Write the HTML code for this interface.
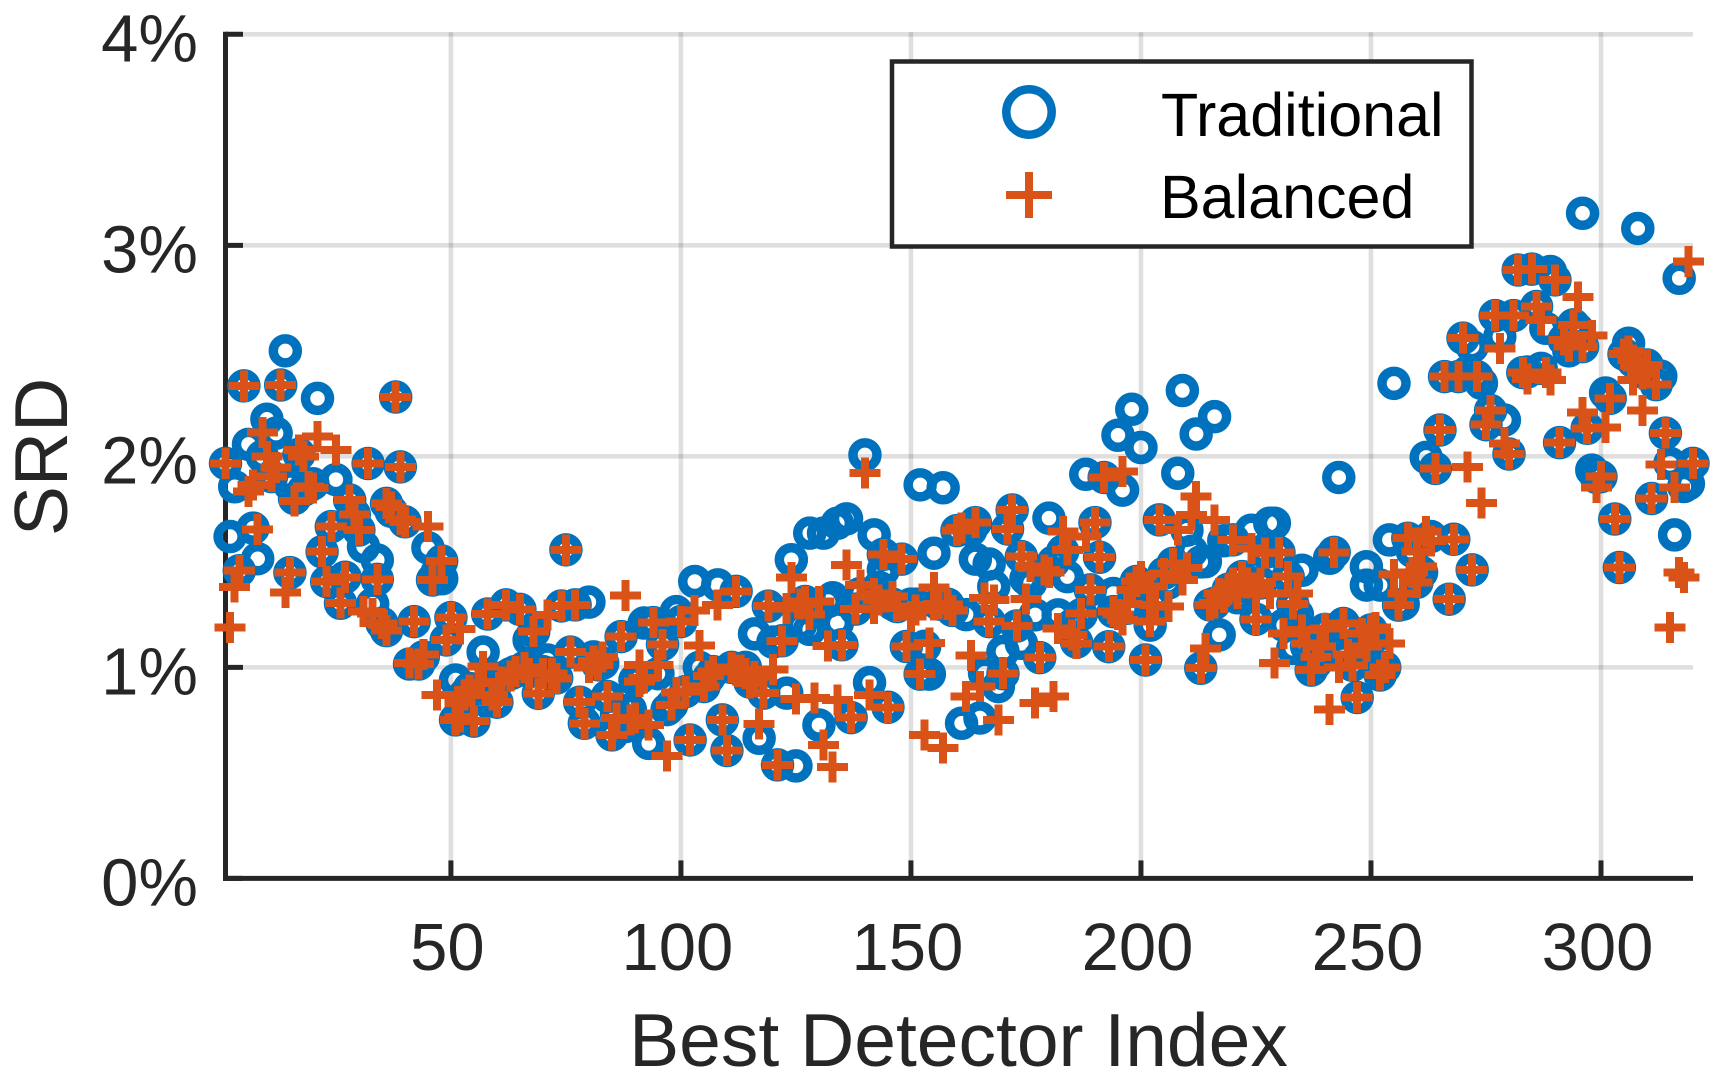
<!DOCTYPE html>
<html lang="en">
<head>
<meta charset="utf-8">
<title>SRD vs Best Detector Index</title>
<style>
html,body{margin:0;padding:0;background:#fff;}
svg{display:block;font-family:"Liberation Sans",Arial,sans-serif;}
</style>
</head>
<body>
<svg id="chart" xmlns="http://www.w3.org/2000/svg" width="1717" height="1077" viewBox="0 0 1717 1077"></svg>
<script>
const xTickValues = [50, 100, 150, 200, 250, 300];
const xTickLabels = ['50', '100', '150', '200', '250', '300'];
const yTickValues = [0, 1, 2, 3, 4];
const yTickLabels = ['0%', '1%', '2%', '3%', '4%'];
const xDomain = [1, 320];
const yDomain = [0, 4];
const seriesNames = ['Traditional', 'Balanced'];

const traditionalIndex = [1,2,3,4,5,6,7,8,10,11,12,13,14,15,15,17,19,21,22,23,24,25,26,27,28,29,30,31,32,34,34,35,36,36,38,39,40,41,42,43,45,46,48,48,49,50,51,51,52,55,57,58,60,62,64,65,66,67,68,69,71,72,74,75,76,77,78,79,80,82,84,85,87,89,90,92,93,94,95,96,98,99,100,101,102,103,105,107,108,109,110,112,113,116,117,118,119,121,122,123,124,125,127,128,128,130,131,132,134,134,135,136,137,138,140,141,142,142,144,144,145,147,148,149,152,152,154,155,157,158,160,161,162,163,164,164,165,166,167,167,168,169,170,170,171,172,173,174,174,177,178,179,180,182,184,188,189,190,191,193,194,194,195,196,198,199,200,201,204,205,207,208,209,210,212,213,213,214,215,216,216,217,220,222,224,225,227,228,229,230,232,233,233,235,237,241,242,243,244,244,246,247,248,249,249,250,252,252,254,255,256,258,260,262,264,265,266,267,268,269,270,271,272,272,273,274,276,277,278,279,280,281,282,283,285,286,287,288,289,290,291,292,294,296,296,297,298,300,301,302,303,304,305,306,308,310,311,312,313,314,315,316,317,318,320,9,16,18,20,33,37,44,47,53,54,56,59,61,63,70,73,81,83,86,88,91,97,104,106,111,114,115,120,126,129,133,139,143,146,150,151,153,156,159,175,176,181,183,185,186,187,192,197,202,203,206,211,218,219,221,223,226,231,234,236,238,239,240,245,251,253,257,259,261,263,275,284,293,295,299,307,309,319];
const traditionalSRD = [1.967,1.62,1.856,1.458,2.334,2.057,1.66,1.515,2.176,1.904,2.11,2.338,2.5,1.449,1.864,2.01,1.857,2.275,1.548,1.406,1.667,1.89,1.304,1.427,1.793,1.725,1.651,1.572,1.966,1.417,1.509,1.209,1.777,1.174,2.281,1.95,1.69,1.016,1.217,1.016,1.567,1.414,1.504,1.42,1.13,1.236,0.94,0.751,0.765,0.745,1.072,1.253,0.835,1.296,0.98,1.275,1.0,1.13,1.17,0.877,1.035,0.972,1.291,1.557,1.072,1.296,0.835,0.735,1.309,1.012,0.862,0.68,1.146,0.8,0.94,1.21,0.64,1.212,0.97,1.109,0.822,1.264,1.217,0.885,0.656,1.407,0.909,0.98,1.391,0.751,0.606,1.36,0.988,1.159,0.664,0.878,1.29,0.538,1.126,0.878,1.51,0.533,1.312,1.636,1.18,0.727,1.636,1.312,1.683,1.21,1.107,1.704,0.762,1.276,2.007,0.928,1.628,1.35,1.536,1.462,0.811,1.288,1.513,1.099,1.865,0.968,0.968,1.541,1.851,1.299,1.648,0.735,1.25,1.65,1.686,1.513,0.76,0.972,1.49,1.217,1.383,0.909,1.075,0.97,1.656,1.746,1.196,1.525,1.114,1.249,1.046,1.462,1.707,1.249,1.43,1.915,1.367,1.686,1.522,1.098,1.264,1.35,2.1,1.84,2.223,1.407,2.042,1.035,1.699,1.446,1.493,1.92,2.312,1.65,2.106,0.996,1.5,1.501,1.296,2.188,1.304,1.154,1.604,1.43,1.65,1.228,1.545,1.683,1.683,1.545,1.43,1.3,1.09,1.46,0.987,1.517,1.545,1.9,1.208,1.05,1.01,0.857,1.08,1.477,1.39,1.177,1.39,0.964,1.604,2.346,1.295,1.612,1.403,1.995,1.943,2.125,2.378,1.323,1.607,2.378,2.56,2.4,2.52,1.462,2.378,2.346,2.217,2.667,2.567,2.172,2.011,2.667,2.883,2.397,2.887,2.71,2.417,2.607,2.876,2.836,2.065,2.552,2.623,2.52,3.152,2.133,1.935,1.904,2.3,2.275,1.703,1.473,2.484,2.536,3.08,2.433,1.8,2.34,2.38,2.11,1.967,1.628,2.844,1.857,1.967,2.0,1.8,1.84,1.87,1.3,1.74,1.05,1.45,0.87,0.9,0.9,0.88,0.95,0.97,0.98,0.95,1.05,1.02,0.78,0.72,0.95,0.8,1.0,0.95,1.0,1.0,0.93,1.12,1.2,1.27,1.33,1.35,1.38,1.3,1.3,1.3,1.1,1.3,1.27,1.42,1.4,1.5,1.55,1.2,1.12,1.25,1.9,1.28,1.2,1.3,1.4,1.55,1.6,1.37,1.33,1.38,1.4,1.2,1.25,1.1,1.02,1.12,1.18,1.18,1.15,1.0,1.3,1.55,1.45,1.62,2.15,2.4,2.5,2.6,1.9,2.45,2.4,1.87];

const balancedIndex = [1,2,3,4,5,6,7,8,9,10,11,12,13,14,15,16,17,19,21,22,23,24,25,26,27,28,29,30,31,32,33,34,35,36,36,38,39,39,40,42,43,44,45,46,47,48,49,50,51,52,52,52,54,55,56,57,58,60,62,64,65,66,68,69,71,72,73,74,75,76,77,78,79,82,83,84,85,86,87,88,90,91,91,93,94,95,96,97,98,100,101,102,103,104,105,107,108,109,110,112,112,113,115,116,117,118,119,120,121,122,123,124,125,127,128,129,130,131,132,133,134,135,136,137,138,139,140,141,142,142,144,145,146,147,148,149,150,151,152,153,154,155,155,157,158,160,162,163,164,165,166,167,168,169,170,171,172,173,174,175,176,177,178,179,181,182,183,184,185,186,187,188,189,190,191,192,193,194,196,196,198,199,200,201,202,202,203,204,205,206,207,208,209,211,212,213,214,215,216,216,217,220,220,222,224,225,225,227,228,229,230,231,232,233,234,235,236,237,238,240,241,242,244,246,247,248,250,251,252,254,255,256,258,259,260,260,261,262,264,265,266,267,268,269,270,271,272,273,274,275,276,277,278,279,280,281,282,283,284,285,286,287,288,289,290,291,292,293,294,295,296,296,297,298,299,300,301,302,303,304,305,307,307,309,309,310,311,312,313,314,315,316,317,318,319,320,18,20,37,41,53,59,61,63,67,70,80,81,89,92,99,106,111,114,126,143,156,159,161,180,195,197,210,218,219,221,223,226,239,243,245,249,253,257,263,306,308];
const balancedSRD = [1.967,1.19,1.38,1.458,2.334,1.833,1.864,1.653,2.114,2.0,1.904,1.948,2.338,1.356,1.449,1.789,2.03,1.857,2.093,1.548,1.406,1.667,2.03,1.304,1.427,1.793,1.725,1.651,1.264,1.966,1.256,1.417,1.209,1.777,1.174,2.281,1.95,1.7,1.69,1.217,1.016,1.06,1.667,1.414,0.869,1.504,1.13,1.236,0.751,1.182,0.83,0.765,0.893,0.745,0.925,1.004,1.253,0.835,1.296,0.98,1.275,1.0,1.17,0.877,1.249,0.972,0.948,1.291,1.557,1.072,1.296,0.835,0.735,1.012,1.05,0.862,0.68,0.759,1.146,1.34,0.759,1.012,0.933,0.727,1.212,1.012,1.109,0.58,0.822,1.217,0.885,0.656,1.269,1.103,0.909,0.98,1.296,0.751,0.606,1.36,0.988,0.988,0.925,0.957,0.731,0.878,1.29,0.99,0.538,1.126,1.28,1.427,0.85,1.312,1.25,0.854,1.312,0.633,1.102,0.527,0.846,1.107,1.486,0.762,1.276,1.391,1.92,0.87,1.35,1.28,1.536,0.811,1.336,1.288,1.513,1.099,1.24,1.273,0.968,0.68,1.115,1.378,1.296,0.617,1.299,1.648,0.862,1.056,1.686,0.909,1.328,1.217,1.32,0.751,0.972,1.656,1.746,1.196,1.525,1.324,1.477,0.83,1.046,1.462,0.862,1.185,1.643,1.557,1.153,1.114,1.256,1.62,1.367,1.686,1.522,1.9,1.098,1.264,1.928,1.225,1.367,1.407,1.43,1.035,1.383,1.217,1.296,1.699,1.446,1.288,1.493,1.651,1.415,1.722,1.81,0.996,1.09,1.296,1.699,1.304,1.35,1.604,1.4,1.43,1.564,1.228,1.367,1.541,1.35,1.02,1.545,1.16,1.43,1.3,1.35,1.177,1.114,0.987,1.05,1.185,0.8,1.545,1.208,1.01,0.857,1.16,1.177,1.19,0.964,1.114,1.44,1.295,1.612,1.45,1.548,1.403,1.477,1.643,1.943,2.125,2.378,1.323,1.607,2.378,2.56,1.95,1.462,2.378,1.778,2.15,2.217,2.667,2.51,2.062,2.011,2.667,2.883,2.397,2.367,2.887,2.71,2.646,2.397,2.362,2.836,2.065,2.552,2.52,2.623,2.754,2.207,2.52,2.133,2.572,1.853,1.904,2.136,2.275,1.703,1.473,2.484,2.457,2.362,2.218,2.39,2.433,1.8,2.34,1.962,2.11,1.19,1.853,1.449,1.425,2.923,1.967,2.0,1.85,1.76,1.02,0.87,0.87,0.93,0.96,0.97,0.97,1.0,1.03,0.75,0.95,0.88,0.96,1.0,0.97,1.3,1.32,1.3,1.27,1.66,1.45,1.25,1.3,1.47,1.33,1.37,1.35,1.4,1.4,1.1,1.0,1.06,1.1,1.0,1.35,1.6,2.5,2.42];

const SVG_NS = 'http://www.w3.org/2000/svg';
const INK = '#262626';
const BLUE = '#0072BD';
const ORANGE = '#D95319';
const chart = document.getElementById('chart');

function xScale(v) {
  return 225.5 + (v - xDomain[0]) * (1693 - 225.5) / (xDomain[1] - xDomain[0]);
}
function yScale(v) {
  return 878.4 - (v - yDomain[0]) * (878.4 - 34.3) / (yDomain[1] - yDomain[0]);
}
function make(tag, attrs, parent) {
  const el = document.createElementNS(SVG_NS, tag);
  for (const k in attrs) el.setAttribute(k, attrs[k]);
  parent.appendChild(el);
  return el;
}
function drawCircle(parent, cx, cy, r, sw) {
  const el = make('circle', {cx: cx, cy: cy, r: r, fill: 'none', stroke: BLUE, 'stroke-width': sw}, parent);
  return el;
}
function drawPlus(parent, cx, cy, size, sw) {
  const el = make('path', {
    d: 'M' + (cx - size / 2) + ' ' + cy + 'H' + (cx + size / 2) + 'M' + cx + ' ' + (cy - size / 2) + 'V' + (cy + size / 2),
    fill: 'none', stroke: ORANGE, 'stroke-width': sw, 'shape-rendering': 'crispEdges'
  }, parent);
  return el;
}

/* grid */
const gridGroup = make('g', {stroke: INK, 'stroke-opacity': 0.15, 'stroke-width': 4.6}, chart);


xTickValues.forEach(function (t) {
  const line = make('line', {x1: xScale(t), x2: xScale(t), y1: yScale(yDomain[1]) - 2, y2: yScale(0)}, gridGroup);
  
  
});
yTickValues.slice(1).forEach(function (t) {
  const line = make('line', {x1: xScale(1), x2: xScale(xDomain[1]), y1: yScale(t), y2: yScale(t)}, gridGroup);
  
  
});

/* axes */
const axisGroup = make('g', {stroke: INK, 'stroke-width': 5, fill: 'none'}, chart);


const yAxisLine = make('line', {x1: xScale(1), x2: xScale(1), y1: yScale(4) - 2.5, y2: yScale(0) + 2.5}, axisGroup);


const xAxisLine = make('line', {x1: xScale(1) - 2.5, x2: xScale(xDomain[1]), y1: yScale(0), y2: yScale(0)}, axisGroup);


xTickValues.forEach(function (t) {
  const tick = make('line', {x1: xScale(t), x2: xScale(t), y1: yScale(0), y2: yScale(0) - 18}, axisGroup);
  
  
});
yTickValues.forEach(function (t) {
  const tick = make('line', {x1: xScale(1), x2: xScale(1) + 17.5, y1: yScale(t), y2: yScale(t)}, axisGroup);
  
  
});

/* tick labels */
xTickValues.forEach(function (t, i) {
  const label = make('text', {x: xScale(t) - 3.5, y: 970, 'text-anchor': 'middle', 'font-size': 67, fill: INK}, chart);
  label.textContent = xTickLabels[i];
  
  
});
yTickValues.forEach(function (t, i) {
  const label = make('text', {x: 198, y: yScale(t) + 27, 'text-anchor': 'end', 'font-size': 67, fill: INK}, chart);
  label.textContent = yTickLabels[i];
  
  
});

/* axis titles */
const xTitle = make('text', {x: 958.5, y: 1066, 'text-anchor': 'middle', 'font-size': 75, fill: INK}, chart);
xTitle.textContent = 'Best Detector Index';


const yTitle = make('text', {transform: 'translate(67 457) rotate(-90)', 'text-anchor': 'middle', 'font-size': 75, fill: INK}, chart);
yTitle.textContent = 'SRD';



/* series */
const traditionalGroup = make('g', {}, chart);


traditionalIndex.forEach(function (idx, i) {
  const dot = drawCircle(traditionalGroup, xScale(idx), yScale(traditionalSRD[i]), 12, 9.5);
  
  
});
const balancedGroup = make('g', {}, chart);


balancedIndex.forEach(function (idx, i) {
  const mark = drawPlus(balancedGroup, xScale(idx), yScale(balancedSRD[i]), 31, 8);
  
  
});

/* legend */
const legend = make('g', {}, chart);


const legendBox = make('rect', {x: 892, y: 61.5, width: 579.5, height: 185, fill: '#fff', stroke: INK, 'stroke-width': 4.5}, legend);


const legendCircle = drawCircle(legend, 1029, 112, 22.7, 8.5);


const legendPlus = drawPlus(legend, 1029, 195, 46, 8);


const legendText1 = make('text', {x: 1161, y: 136, 'font-size': 61, fill: '#000'}, legend);
legendText1.textContent = seriesNames[0];


const legendText2 = make('text', {x: 1160, y: 218, 'font-size': 61, fill: '#000'}, legend);
legendText2.textContent = seriesNames[1];


</script>
</body>
</html>
